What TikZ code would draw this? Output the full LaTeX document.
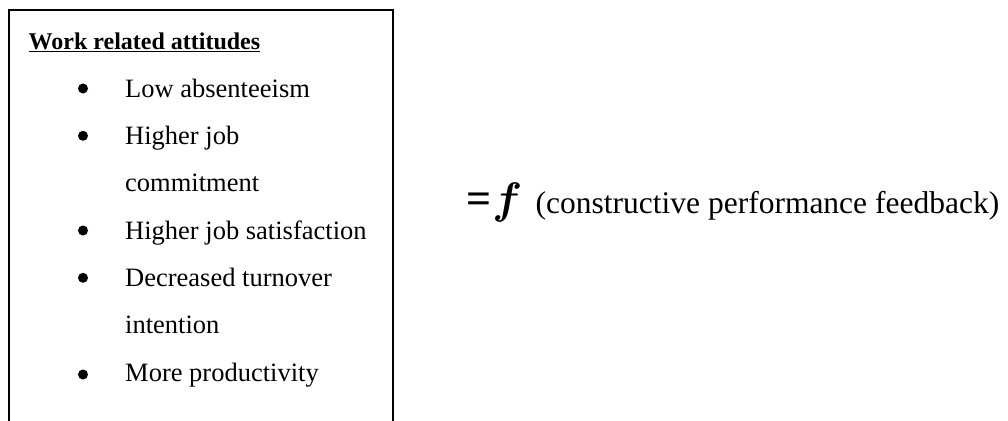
\documentclass[tikz,border=0pt]{standalone}
\usepackage{graphicx}
\usepackage{fontspec}
\setmainfont{Liberation Serif}
\usepackage{tikz}
\usetikzlibrary{positioning}

\tikzset{
  frame/.style={line width=1.6pt},
  itemtext/.style={anchor=base west, inner sep=0pt, font=\fontsize{26.5}{30}\selectfont},
  bulletdot/.style={circle, fill=black, inner sep=0pt, minimum size=10pt},
}

\begin{document}
\begin{tikzpicture}[x=1pt,y=-1pt]
      \useasboundingbox (0,0) rectangle (1008,420);
      % box, open at the bottom edge of the page
      \draw[frame] (9,430) -- (9,10) -- (393,10) -- (393,430);
      \node[anchor=base west, inner sep=0pt, font=\fontsize{24}{28}\selectfont\bfseries] (title) at (28.5,49.5) {\underline{Work related attitudes}};
      % items
      \node[bulletdot] (b1) at (83,88.5) {};
      \node[itemtext] (item1) at (125,97) {Low absenteeism};
      \node[bulletdot] (b2) at (83,135.8) {};
      \node[itemtext] (item2) at (125,144.3) {Higher job};
      \node[itemtext] (item2b) at (125,191.7) {commitment};
      \node[bulletdot] (b3) at (83,230.5) {};
      \node[itemtext] (item3) at (125,239) {Higher job satisfaction};
      \node[bulletdot] (b4) at (83,277.8) {};
      \node[itemtext] (item4) at (125,286.3) {Decreased turnover};
      \node[itemtext] (item4b) at (125,333.7) {intention};
      \node[bulletdot] (b5) at (83,374.5) {};
      \node[itemtext] (item5) at (125,381.5) {More productivity};
      % right hand side
      \node[anchor=base west, inner sep=0pt, font=\fontsize{44}{48}\selectfont\bfseries] (eq) at (466,213) {=\kern1pt\scalebox{1.77}{\fontsize{24.88}{28}\selectfont\boldmath$f$}};
      \node[anchor=base west, inner sep=0pt, font=\fontsize{31.5}{35}\selectfont] (arg) at (535.5,213) {(constructive performance feedback)};
    \end{tikzpicture}
\end{document}
